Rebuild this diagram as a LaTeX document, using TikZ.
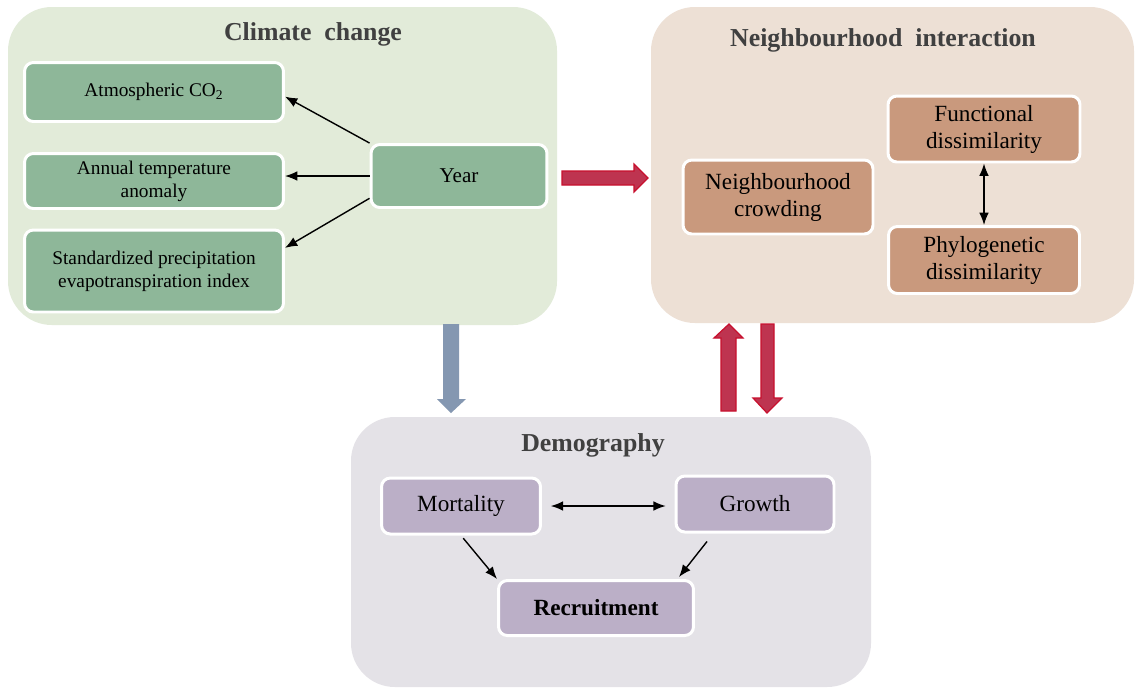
\documentclass[tikz,border=0pt]{standalone}
\usepackage{fontspec}
\setmainfont{Liberation Serif}
\usetikzlibrary{arrows.meta, calc}

\definecolor{climbg}{RGB}{226,235,217}
\definecolor{climbox}{RGB}{142,183,153}
\definecolor{neighbg}{RGB}{237,224,213}
\definecolor{neighbox}{RGB}{201,153,125}
\definecolor{demobg}{RGB}{228,226,231}
\definecolor{demobox}{RGB}{187,175,199}
\definecolor{redfill}{RGB}{190,52,80}
\definecolor{redline}{RGB}{200,16,46}
\definecolor{bluefill}{RGB}{132,151,177}
\definecolor{titlegray}{RGB}{64,64,64}

\tikzset{
  panel/.style={rounded corners=25pt},
  box/.style={draw=white, line width=1.7pt, rounded corners=5pt, align=center, inner sep=2pt},
  smalltext/.style={font=\fontsize{11}{13}\selectfont},
  bigtext/.style={font=\fontsize{13.2}{15.4}\selectfont},
  paneltitle/.style={font=\fontsize{14.7}{17}\selectfont\bfseries, text=titlegray},
  link/.style={line width=0.8pt, -{Latex[length=7pt, width=5.5pt]}},
  twolink/.style={line width=0.8pt, {Latex[length=7pt, width=5.5pt]}-{Latex[length=7pt, width=5.5pt]}},
  redarrow/.style={fill=redfill, draw=redline, line width=0.7pt},
  bluearrow/.style={fill=bluefill, draw=none}
}

\begin{document}
\begin{tikzpicture}[x=0.02cm, y=-0.02cm]

  \clip (0,0) rectangle (1135,687);
  \fill[white] (0,0) rectangle (1135,687);

  % panels
  \fill[climbg, panel] (8,7) rectangle (557,325);
  \fill[neighbg, panel] (651,7) rectangle (1134,323);
  \fill[demobg, panel] (351,417) rectangle (871,687);

  \node[paneltitle] (climtitle) at (313,34) {Climate\hspace{0.5em}change};
  \node[paneltitle] (neightitle) at (883,40) {Neighbourhood\hspace{0.5em}interaction};
  \node[paneltitle] (demotitle) at (593,445) {Demography};

  % climate change
  \node[box, smalltext, fill=climbox, minimum width=5.18cm, minimum height=1.18cm] (co2) at (154,92) {Atmospheric CO\textsubscript{2}};
  \node[box, smalltext, fill=climbox, minimum width=5.18cm, minimum height=1.1cm] (temp) at (154,181) {Annual temperature\\anomaly};
  \node[box, smalltext, fill=climbox, minimum width=5.18cm, minimum height=1.64cm] (spei) at (154,271) {Standardized precipitation\\evapotranspiration index};
  \node[box, font=\fontsize{12}{14}\selectfont, fill=climbox, minimum width=3.52cm, minimum height=1.26cm] (year) at (459,176) {Year};

  \draw[link] (year.north west) -- (co2.358);
  \draw[link] (year.west) -- (year.west -| temp.east);
  \draw[link] (year.194) -- (spei.10);

  % neighbourhood interaction
  \node[box, bigtext, fill=neighbox, minimum width=3.8cm, minimum height=1.48cm] (crowd) at (778,197) {Neighbourhood\\crowding};
  \node[box, bigtext, fill=neighbox, minimum width=3.84cm, minimum height=1.32cm] (func) at (984,129) {Functional\\dissimilarity};
  \node[box, bigtext, fill=neighbox, minimum width=3.82cm, minimum height=1.34cm] (phylo) at (984,260) {Phylogenetic\\dissimilarity};

  \draw[twolink] (func.south) -- (phylo.north);

  % demography
  \node[box, bigtext, fill=demobox, minimum width=3.18cm, minimum height=1.12cm] (mort) at (461,506) {Mortality};
  \node[box, bigtext, fill=demobox, minimum width=3.16cm, minimum height=1.12cm] (growth) at (755,504) {Growth};
  \node[box, bigtext, fill=demobox, minimum width=3.9cm, minimum height=1.1cm] (recr) at (596,608) {\textbf{Recruitment}};

  \draw[twolink, shorten <=5pt, shorten >=5pt] (mort.east) -- (mort.east -| growth.west);
  \draw[link, shorten <=2pt] (mort.south) -- (recr.north west);
  \draw[link] ([xshift=-0.96cm, yshift=-0.16cm]growth.south) -- ([xshift=-0.32cm, yshift=0.04cm]recr.north east);

  % block arrows between panels
  \draw[redarrow] (562,171) -- (634,171) -- (634,164) -- (648,178) -- (634,192) -- (634,185) -- (562,185) -- cycle;
  \fill[bluearrow] (443,324) -- (459,324) -- (459,399) -- (466,399) -- (451,413) -- (437,399) -- (443,399) -- cycle;
  \draw[redarrow] (721,411) -- (721,338) -- (714,338) -- (729,324) -- (743,338) -- (736,338) -- (736,411) -- cycle;
  \draw[redarrow] (761,324) -- (774,324) -- (774,398) -- (782,398) -- (767,413) -- (753,398) -- (761,398) -- cycle;

\end{tikzpicture}
\end{document}
